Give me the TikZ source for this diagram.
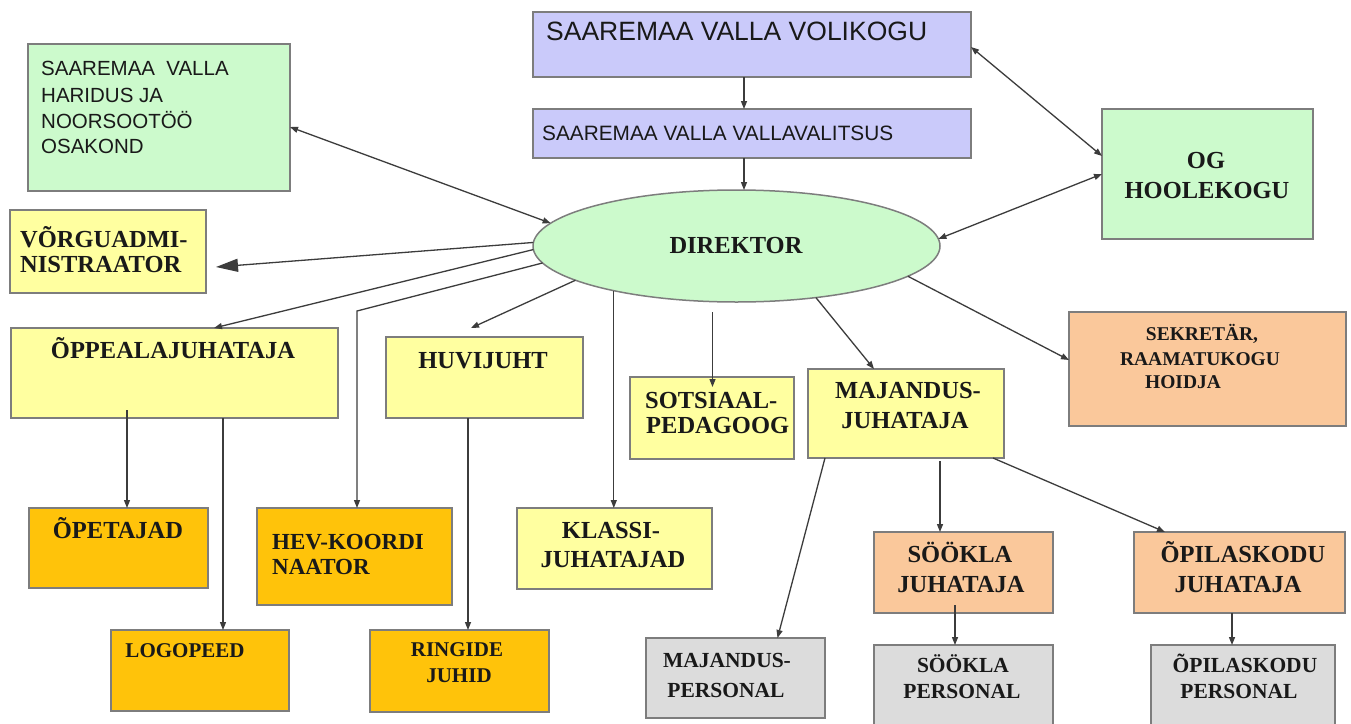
\documentclass[tikz,border=0pt]{standalone}
\usepackage{fontspec}
\setmainfont{Liberation Serif}
\newfontfamily\sansf{Liberation Sans}
\usetikzlibrary{arrows.meta,shapes.geometric}
\definecolor{lav}{RGB}{202,202,250}
\definecolor{grn}{RGB}{204,250,204}
\definecolor{yel}{RGB}{255,255,160}
\definecolor{gold}{RGB}{255,195,10}
\definecolor{peach}{RGB}{250,200,155}
\definecolor{gry}{RGB}{220,220,220}
\definecolor{bordc}{RGB}{125,125,125}
\definecolor{arrc}{RGB}{60,60,60}
\definecolor{txtc}{RGB}{25,25,25}
\newcommand\mkbox[6]{\node[box,fill=#2,minimum width={(#5-#3)*1pt},minimum height={(#6-#4)*1pt}] (#1) at ({(#3+#5)/2},{(#4+#6)/2}) {};}
\begin{document}
\begin{tikzpicture}[x=1pt,y=-1pt,
  box/.style={draw=bordc,line width=1.5pt,inner sep=0pt,outer sep=0pt,rectangle},
  arr/.style={draw=arrc,line width=1.3pt,-{Triangle[length=8pt,width=6pt]}},
  darr/.style={draw=arrc,line width=1.3pt,{Triangle[length=8pt,width=6pt]}-{Triangle[length=8pt,width=6pt]}},
  bigarr/.style={draw=arrc,line width=1.3pt,-{Triangle[length=22pt,width=13pt]}},
  st/.style={font=\fontsize{24.5}{28}\selectfont\bfseries,text=txtc,inner sep=0pt,anchor=base},
  stl/.style={st,anchor=base west},
  sts/.style={st,font=\fontsize{21.5}{25}\selectfont\bfseries},
  sss/.style={font=\sansf\fontsize{20.5}{24}\selectfont,text=txtc,inner sep=0pt,anchor=base west}]
\useasboundingbox (0,0) rectangle (1351,723);
\fill[white] (0,0) rectangle (1351,723);
% boxes
\mkbox{vol}{lav}{533}{12}{971}{77}
\mkbox{vvt}{lav}{533}{109}{971}{158}
\mkbox{har}{grn}{28}{44}{290}{191}
\mkbox{og}{grn}{1102}{109}{1313}{239}
\node[ellipse,draw=bordc,line width=1.5pt,fill=grn,minimum width=407pt,minimum height=112pt,inner sep=0pt,outer sep=0pt] (dir) at (736.5,246) {};
\mkbox{vorgu}{yel}{10}{210}{206}{293}
\mkbox{opp}{yel}{11}{328}{338}{418}
\mkbox{huv}{yel}{386}{337}{583}{418}
\mkbox{sots}{yel}{630}{377}{794}{459}
\mkbox{maj}{yel}{808}{369}{1004}{458}
\mkbox{sek}{peach}{1069}{312}{1346}{426}
\mkbox{ope}{gold}{29}{508}{208}{588}
\mkbox{hev}{gold}{257}{508}{452}{605}
\mkbox{kla}{yel}{517}{508}{712}{589}
\mkbox{log}{gold}{111}{630}{289}{711}
\mkbox{rin}{gold}{370}{630}{549}{712}
\mkbox{mpe}{gry}{646}{638}{825}{718}
\mkbox{sju}{peach}{874}{532}{1053}{613}
\mkbox{oju}{peach}{1134}{532}{1345}{613}
\mkbox{spe}{gry}{874}{645}{1053}{725}
\mkbox{ope2}{gry}{1151}{645}{1335}{725}
\coordinate (hevc) at (357,311);
% connectors
\draw[arr] ([xshift=-8pt]vol.south) -- ([xshift=-8pt]vvt.north);
\draw[arr] ([xshift=-8pt]vvt.south) -- ([xshift=-8pt]vvt.south |- dir.north);
\draw[darr] ([yshift=-9.5pt]har.east) -- (dir.173);
\draw[darr] ([yshift=-2.5pt]vol.east) -- ([yshift=18pt]og.west);
\draw[darr] (og.west) -- (dir.2);
\draw[bigarr] (dir.179) -- ([shift={(10,15.5)}]vorgu.east);
\draw[arr] (dir.181) -- ([xshift=39.5pt]opp.north);
\draw[arr] (dir.185) -- (hevc) -- (hevc |- hev.north);
\draw[arr] (dir.192) -- ([shift={(-13.5,-9)}]huv.north);
\draw[arr] (dir.200) -- (dir.200 |- kla.north);
\draw[arr] ([shift={(-24,10)}]dir.south) -- ([shift={(-24,10)}]dir.south |- sots.north);
\draw[arr] (dir.-33) -- ([xshift=-32pt]maj.north);
\draw[arr] (dir.-10.6) -- ([yshift=9pt]sek.west);
\draw[arr] ([xshift=-81pt]maj.south) -- ([xshift=42pt]mpe.north);
\draw[arr] ([shift={(34,3)}]maj.south) -- ([xshift=-23.5pt]sju.north);
\draw[arr] ([xshift=87pt]maj.south) -- ([xshift=-74.5pt]oju.north);
\draw[arr] ([shift={(-8.5,-8)}]sju.south) -- ([xshift=-8.5pt]spe.north);
\draw[arr] ([xshift=-7.5pt]oju.south) -- ([xshift=-11pt]ope2.north);
\draw[arr] ([shift={(-47.5,-8)}]opp.south) -- ([xshift=8.5pt]ope.north);
\draw[arr] ([xshift=48.5pt]opp.south) -- ([xshift=23pt]log.north);
\draw[arr] ([xshift=-16.5pt]huv.south) -- ([xshift=8.5pt]rin.north);
% texts
\node[sss,font=\sansf\fontsize{26.5}{30}\selectfont] (tvol) at (546,40) {SAAREMAA VALLA VOLIKOGU};
\node[sss,font=\sansf\fontsize{20.8}{24}\selectfont] (tvvt) at (542,140) {SAAREMAA VALLA VALLAVALITSUS};
\node[sss] (thar1) at (41,75) {SAAREMAA\hspace{0.55em}VALLA};
\node[sss] (thar2) at (41,102) {HARIDUS JA};
\node[sss] (thar3) at (41,128) {NOORSOOTÖÖ};
\node[sss] (thar4) at (41,153) {OSAKOND};
\node[st] (tog1) at (1206,168) {OG};
\node[st] (tog2) at (1207,198) {HOOLEKOGU};
\node[st] (tdir) at (736,253) {DIREKTOR};
\node[stl] (tvor1) at (20,247) {VÕRGUADMI-};
\node[stl] (tvor2) at (20,272) {NISTRAATOR};
\node[st] (topp) at (173,358) {ÕPPEALAJUHATAJA};
\node[st] (thuv) at (483,368) {HUVIJUHT};
\node[stl] (tsot1) at (645,408) {SOTSIAAL-};
\node[stl] (tsot2) at (646,433) {PEDAGOOG};
\node[st] (tmaj1) at (908,398) {MAJANDUS-};
\node[st] (tmaj2) at (905,428) {JUHATAJA};
\node[st,font=\fontsize{19.5}{23}\selectfont\bfseries] (tsek1) at (1202,340) {SEKRETÄR,};
\node[st,font=\fontsize{19.5}{23}\selectfont\bfseries] (tsek2) at (1200,365) {RAAMATUKOGU};
\node[st,font=\fontsize{19.5}{23}\selectfont\bfseries] (tsek3) at (1183,388) {HOIDJA};
\node[st] (tope) at (118,538) {ÕPETAJAD};
\node[stl,font=\fontsize{23}{27}\selectfont\bfseries] (thev1) at (272,549) {HEV-KOORDI};
\node[stl,font=\fontsize{23}{27}\selectfont\bfseries] (thev2) at (272,574) {NAATOR};
\node[st] (tkla1) at (611,538) {KLASSI-};
\node[st] (tkla2) at (613,567) {JUHATAJAD};
\node[sts,font=\fontsize{21}{25}\selectfont\bfseries] (tlog) at (185,657) {LOGOPEED};
\node[sts,font=\fontsize{21}{25}\selectfont\bfseries] (trin1) at (457,656) {RINGIDE};
\node[sts,font=\fontsize{21}{25}\selectfont\bfseries] (trin2) at (459,682) {JUHID};
\node[sts] (tmpe1) at (727,667) {MAJANDUS-};
\node[sts] (tmpe2) at (726,697) {PERSONAL};
\node[st] (tsju1) at (960,562) {SÖÖKLA};
\node[st] (tsju2) at (961,592) {JUHATAJA};
\node[st] (toju1) at (1243,562) {ÕPILASKODU};
\node[st] (toju2) at (1238,592) {JUHATAJA};
\node[sts] (tspe1) at (963,672) {SÖÖKLA};
\node[sts] (tspe2) at (962,698) {PERSONAL};
\node[sts] (tope21) at (1245,672) {ÕPILASKODU};
\node[sts] (tope22) at (1239,698) {PERSONAL};
\end{tikzpicture}
\end{document}
